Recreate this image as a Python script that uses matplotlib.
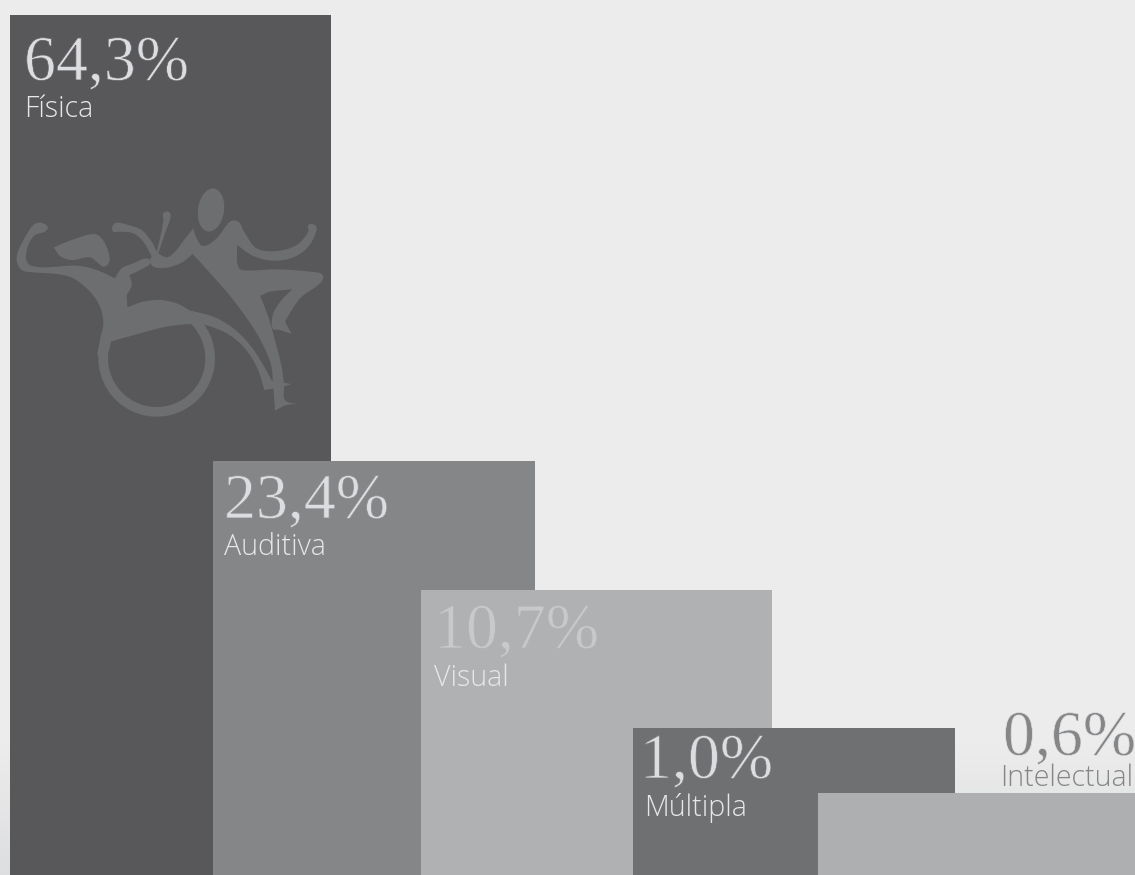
import numpy as np
import matplotlib
matplotlib.use("Agg")
import matplotlib.pyplot as plt
import matplotlib.patheffects as pe
from matplotlib.path import Path
from matplotlib.patches import PathPatch, Ellipse, Wedge
from matplotlib.transforms import Affine2D

# Share of people by type of disability
categories = ["Física", "Auditiva", "Visual", "Múltipla", "Intelectual"]
values = [64.3, 23.4, 10.7, 1.0, 0.6]

# Bars overlap like stacked cards; the vertical scale is a hand-set, non-linear one
bar_left = [10, 213, 421, 633, 818]
bar_right = [331, 535, 772, 955, 1135]
bar_colors = ["#58585a", "#858688", "#b0b1b3", "#6f7072", "#aeafb1"]
value_colors = ["#dcdde0", "#dcdde0", "#c8c9cb", "#dcdde0", "#858688"]
name_colors = ["#e6e7e8", "#e6e7e8", "#e6e7e8", "#e6e7e8", "#858688"]
value_backs = ["#58585a", "#858688", "#b0b1b3", "#6f7072", "#ebebec"]
value_pos = [(24, 80), (224, 518), (434, 648), (640, 778), (1003, 755)]
name_pos = [(24, 117), (224, 555), (434, 686), (644, 816), (1000, 786)]
scale_values = [0, 0.6, 1.0, 10.7, 23.4, 64.3, 65.4]
scale_heights = [0, 82, 147, 285, 414, 860, 875]

W, H = 1135, 875
BACKGROUND = "#ececec"
LOGO = "#6d6e70"

fig = plt.figure(figsize=(W / 100, H / 100), dpi=100, facecolor=BACKGROUND)
ax = fig.add_axes([0, 0, 1, 1])
ax.set_axis_off()


def to_height(v):
    return np.interp(v, scale_values, scale_heights)


def to_value(h):
    return np.interp(h, scale_heights, scale_values)


ax.set_yscale("function", functions=(to_height, to_value))
ax.set_xlim(0, W)
ax.set_ylim(0, scale_values[-1])

# Soft darkening of the backdrop towards the lower edge
shade = np.linspace(0, 1, 200)[:, None]
rgb0, rgb1 = np.array([0xec, 0xec, 0xec]), np.array([0xdd, 0xde, 0xdf])
ramp = (rgb0 + (rgb1 - rgb0) * shade[:, None]) / 255
fig_bg = fig.add_axes([0, 0, 1, 130 / H], zorder=-1)
fig_bg.imshow(ramp, aspect="auto", interpolation="bilinear")
fig_bg.set_axis_off()
ax.patch.set_alpha(0)

widths = np.array(bar_right) - np.array(bar_left)
for i in range(len(values)):
    ax.bar(bar_left[i], values[i], width=widths[i], align="edge",
           color=bar_colors[i], linewidth=0, zorder=2 + i)


def to_fig(px, py):
    return px / W, 1 - py / H


for i, cat in enumerate(categories):
    label = f"{values[i]:.1f}%".replace(".", ",")
    x, y = to_fig(*value_pos[i])
    # A fine outline in the surface colour slims the serif numerals
    fig.text(x, y, label, family="Liberation Serif", fontsize=46,
             color=value_colors[i], va="baseline", ha="left", zorder=20,
             path_effects=[pe.Normal(),
                           pe.Stroke(linewidth=0.55, foreground=value_backs[i])])
    x, y = to_fig(*name_pos[i])
    fig.text(x, y, cat, family="Open Sans", fontweight="light", fontsize=20.6,
             color=name_colors[i], va="baseline", ha="left", zorder=20)


# Emblem: wheelchair user and dancing partner, outlined in a 3x working grid
def smooth_closed(points, corners):
    p = np.asarray(points, float)
    n = len(p)
    sharp = [tuple(q) in corners for q in points]
    tangents = []
    for i in range(n):
        d = p[(i + 1) % n] - p[i - 1]
        tangents.append(np.zeros(2) if sharp[i] else d / np.hypot(*d))
    verts = [p[0]]
    codes = [Path.MOVETO]
    for i in range(n):
        j = (i + 1) % n
        reach = np.hypot(*(p[j] - p[i])) / 3
        verts += [p[i] + tangents[i] * reach, p[j] - tangents[j] * reach, p[j]]
        codes += [Path.CURVE4] * 3
    return Path(verts, codes)


partner = [(337, 170), (350, 158), (385, 165), (425, 180), (455, 215), (470, 245),
           (482, 195), (490, 150), (490, 130), (505, 125), (512, 140), (495, 190),
           (475, 250), (500, 262), (525, 245), (552, 210), (580, 175), (590, 205),
           (610, 228), (650, 205), (690, 155), (715, 155), (735, 190), (770, 235),
           (830, 243), (890, 225), (925, 185), (925, 165), (945, 165), (950, 180),
           (925, 230), (880, 262), (820, 272), (760, 258), (712, 225), (712, 280),
           (725, 300), (830, 298), (930, 305), (968, 315), (960, 340), (900, 385),
           (855, 455), (875, 492), (840, 480), (818, 475), (820, 430), (845, 390),
           (877, 358), (810, 365), (780, 378), (805, 440), (830, 530), (845, 590),
           (852, 645), (855, 690), (893, 702), (860, 705), (825, 722), (820, 655),
           (812, 580), (770, 490), (700, 390), (640, 320), (578, 252), (545, 278),
           (500, 293), (460, 290), (450, 270), (455, 260), (430, 215), (400, 190),
           (360, 185), (340, 185)]
partner_corners = {(470, 245), (475, 250), (580, 175), (712, 225), (855, 455), (875, 492),
                   (877, 358), (780, 378), (893, 702), (825, 722), (578, 252), (455, 260)}
rider = [(120, 158), (143, 170), (135, 185), (105, 195), (85, 225), (78, 265),
         (90, 285), (130, 292), (230, 287), (290, 300), (345, 325), (365, 295),
         (400, 280), (440, 265), (452, 278), (430, 295), (388, 315), (395, 345),
         (380, 375), (382, 412), (430, 395), (480, 390), (530, 400), (570, 422),
         (640, 440), (700, 475), (750, 525), (790, 585), (815, 632), (873, 642),
         (850, 650), (793, 660), (770, 590), (730, 530), (680, 490), (615, 465),
         (570, 462), (500, 470), (420, 490), (332, 515), (325, 545), (297, 565),
         (300, 510), (310, 460), (300, 410), (270, 365), (220, 325), (170, 312),
         (100, 307), (65, 300), (50, 270), (58, 235), (85, 185), (100, 165)]
rider_corners = {(345, 325), (388, 315), (380, 375), (382, 412), (570, 422), (815, 632),
                 (873, 642), (793, 660), (332, 515)}
rider_head = [(162, 232), (215, 210), (280, 192), (305, 205), (325, 245), (328, 275),
              (312, 290), (295, 280), (270, 262), (215, 270), (180, 258)]
head_corners = {(162, 232)}

grid = (Affine2D().scale(1 / 3).translate(0, 170).scale(1 / W, -1 / H).translate(0, 1)
        + fig.transFigure)
# The emblem sits on the first bar and under every later one
emblem_z = 2.5
for outline, corners in ((partner, partner_corners), (rider, rider_corners),
                         (rider_head, head_corners)):
    ax.add_patch(PathPatch(smooth_closed(outline, corners), facecolor=LOGO,
                           edgecolor="none", transform=grid, zorder=emblem_z))
ax.add_patch(Ellipse((633, 120), 78, 130, angle=8, facecolor=LOGO, edgecolor="none",
                     transform=grid, zorder=emblem_z))
ax.add_patch(Wedge((470, 565), 175, -55, 205, width=29, facecolor=LOGO, edgecolor="none",
                   transform=grid, zorder=emblem_z))

fig.savefig("out.png", dpi=100, facecolor=BACKGROUND)
